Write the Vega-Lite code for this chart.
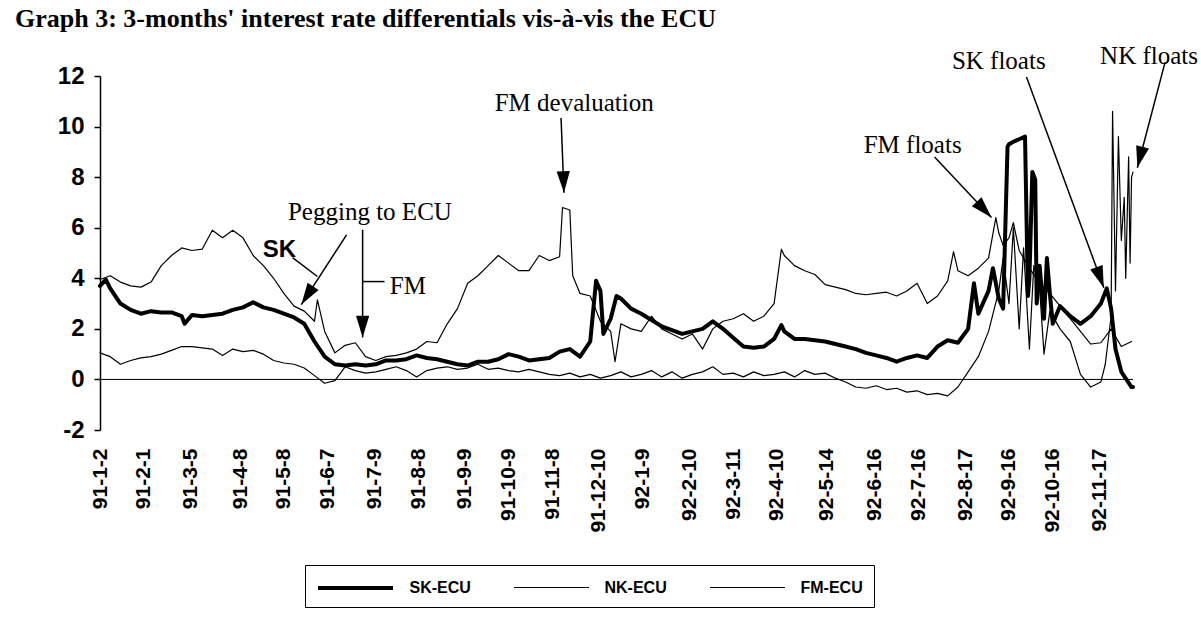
{
  "$schema": "https://vega.github.io/schema/vega-lite/v6.json",
  "width": 1033,
  "height": 354,
  "autosize": {"type": "none"},
  "padding": {"left": 100, "top": 76, "right": 68, "bottom": 211},
  "background": "white",
  "title": {"text": "Graph 3: 3-months' interest rate differentials vis-à-vis the ECU", "anchor": "start", "frame": "group", "font": "Liberation Serif", "fontSize": 26, "fontWeight": "bold", "color": "black", "dx": -85, "dy": 9, "baseline": "alphabetic", "offset": 0},
  "datasets": {
    "series": [
      {"d":"1991-01-02","s":"SK-ECU","v":3.7},{"d":"1991-01-06","s":"SK-ECU","v":3.95},{"d":"1991-01-09","s":"SK-ECU","v":3.6},{"d":"1991-01-16","s":"SK-ECU","v":3.0},{"d":"1991-01-23","s":"SK-ECU","v":2.75},{"d":"1991-01-30","s":"SK-ECU","v":2.6},{"d":"1991-02-06","s":"SK-ECU","v":2.7},{"d":"1991-02-13","s":"SK-ECU","v":2.65},{"d":"1991-02-20","s":"SK-ECU","v":2.65},{"d":"1991-02-27","s":"SK-ECU","v":2.5},{"d":"1991-03-01","s":"SK-ECU","v":2.2},{"d":"1991-03-06","s":"SK-ECU","v":2.55},{"d":"1991-03-13","s":"SK-ECU","v":2.5},{"d":"1991-03-20","s":"SK-ECU","v":2.55},{"d":"1991-03-27","s":"SK-ECU","v":2.6},{"d":"1991-04-03","s":"SK-ECU","v":2.75},{"d":"1991-04-10","s":"SK-ECU","v":2.85},{"d":"1991-04-17","s":"SK-ECU","v":3.05},{"d":"1991-04-24","s":"SK-ECU","v":2.85},{"d":"1991-05-01","s":"SK-ECU","v":2.75},{"d":"1991-05-08","s":"SK-ECU","v":2.6},{"d":"1991-05-15","s":"SK-ECU","v":2.45},{"d":"1991-05-22","s":"SK-ECU","v":2.2},{"d":"1991-05-29","s":"SK-ECU","v":1.5},{"d":"1991-06-05","s":"SK-ECU","v":0.9},{"d":"1991-06-12","s":"SK-ECU","v":0.6},{"d":"1991-06-19","s":"SK-ECU","v":0.55},{"d":"1991-06-26","s":"SK-ECU","v":0.6},{"d":"1991-07-03","s":"SK-ECU","v":0.55},{"d":"1991-07-10","s":"SK-ECU","v":0.6},{"d":"1991-07-17","s":"SK-ECU","v":0.75},{"d":"1991-07-24","s":"SK-ECU","v":0.75},{"d":"1991-07-31","s":"SK-ECU","v":0.8},{"d":"1991-08-07","s":"SK-ECU","v":0.95},{"d":"1991-08-14","s":"SK-ECU","v":0.85},{"d":"1991-08-21","s":"SK-ECU","v":0.8},{"d":"1991-08-28","s":"SK-ECU","v":0.7},{"d":"1991-09-04","s":"SK-ECU","v":0.6},{"d":"1991-09-11","s":"SK-ECU","v":0.55},{"d":"1991-09-18","s":"SK-ECU","v":0.7},{"d":"1991-09-25","s":"SK-ECU","v":0.7},{"d":"1991-10-02","s":"SK-ECU","v":0.8},{"d":"1991-10-09","s":"SK-ECU","v":1.0},{"d":"1991-10-16","s":"SK-ECU","v":0.9},{"d":"1991-10-23","s":"SK-ECU","v":0.75},{"d":"1991-10-30","s":"SK-ECU","v":0.8},{"d":"1991-11-06","s":"SK-ECU","v":0.85},{"d":"1991-11-13","s":"SK-ECU","v":1.1},{"d":"1991-11-20","s":"SK-ECU","v":1.2},{"d":"1991-11-27","s":"SK-ECU","v":0.9},{"d":"1991-12-04","s":"SK-ECU","v":1.5},{"d":"1991-12-08","s":"SK-ECU","v":3.9},{"d":"1991-12-11","s":"SK-ECU","v":3.5},{"d":"1991-12-13","s":"SK-ECU","v":1.8},{"d":"1991-12-18","s":"SK-ECU","v":2.4},{"d":"1991-12-22","s":"SK-ECU","v":3.3},{"d":"1991-12-25","s":"SK-ECU","v":3.2},{"d":"1992-01-01","s":"SK-ECU","v":2.8},{"d":"1992-01-08","s":"SK-ECU","v":2.6},{"d":"1992-01-15","s":"SK-ECU","v":2.35},{"d":"1992-01-22","s":"SK-ECU","v":2.1},{"d":"1992-01-29","s":"SK-ECU","v":1.95},{"d":"1992-02-05","s":"SK-ECU","v":1.8},{"d":"1992-02-12","s":"SK-ECU","v":1.9},{"d":"1992-02-19","s":"SK-ECU","v":2.0},{"d":"1992-02-26","s":"SK-ECU","v":2.3},{"d":"1992-03-04","s":"SK-ECU","v":2.0},{"d":"1992-03-11","s":"SK-ECU","v":1.65},{"d":"1992-03-18","s":"SK-ECU","v":1.3},{"d":"1992-03-25","s":"SK-ECU","v":1.25},{"d":"1992-04-01","s":"SK-ECU","v":1.3},{"d":"1992-04-08","s":"SK-ECU","v":1.6},{"d":"1992-04-13","s":"SK-ECU","v":2.15},{"d":"1992-04-15","s":"SK-ECU","v":1.9},{"d":"1992-04-22","s":"SK-ECU","v":1.6},{"d":"1992-04-29","s":"SK-ECU","v":1.6},{"d":"1992-05-06","s":"SK-ECU","v":1.55},{"d":"1992-05-13","s":"SK-ECU","v":1.5},{"d":"1992-05-20","s":"SK-ECU","v":1.4},{"d":"1992-05-27","s":"SK-ECU","v":1.3},{"d":"1992-06-03","s":"SK-ECU","v":1.2},{"d":"1992-06-10","s":"SK-ECU","v":1.05},{"d":"1992-06-17","s":"SK-ECU","v":0.95},{"d":"1992-06-24","s":"SK-ECU","v":0.85},{"d":"1992-07-01","s":"SK-ECU","v":0.7},{"d":"1992-07-08","s":"SK-ECU","v":0.85},{"d":"1992-07-15","s":"SK-ECU","v":0.95},{"d":"1992-07-22","s":"SK-ECU","v":0.85},{"d":"1992-07-29","s":"SK-ECU","v":1.3},{"d":"1992-08-05","s":"SK-ECU","v":1.55},{"d":"1992-08-12","s":"SK-ECU","v":1.45},{"d":"1992-08-19","s":"SK-ECU","v":2.0},{"d":"1992-08-23","s":"SK-ECU","v":3.8},{"d":"1992-08-26","s":"SK-ECU","v":2.6},{"d":"1992-09-02","s":"SK-ECU","v":3.5},{"d":"1992-09-05","s":"SK-ECU","v":4.4},{"d":"1992-09-09","s":"SK-ECU","v":3.2},{"d":"1992-09-12","s":"SK-ECU","v":2.8},{"d":"1992-09-15","s":"SK-ECU","v":9.2},{"d":"1992-09-16","s":"SK-ECU","v":9.3},{"d":"1992-09-19","s":"SK-ECU","v":9.4},{"d":"1992-09-23","s":"SK-ECU","v":9.5},{"d":"1992-09-27","s":"SK-ECU","v":9.6},{"d":"1992-09-29","s":"SK-ECU","v":3.3},{"d":"1992-09-30","s":"SK-ECU","v":4.0},{"d":"1992-10-02","s":"SK-ECU","v":8.2},{"d":"1992-10-04","s":"SK-ECU","v":7.9},{"d":"1992-10-05","s":"SK-ECU","v":3.0},{"d":"1992-10-07","s":"SK-ECU","v":4.5},{"d":"1992-10-10","s":"SK-ECU","v":2.4},{"d":"1992-10-12","s":"SK-ECU","v":4.8},{"d":"1992-10-14","s":"SK-ECU","v":3.4},{"d":"1992-10-16","s":"SK-ECU","v":2.2},{"d":"1992-10-21","s":"SK-ECU","v":2.9},{"d":"1992-10-28","s":"SK-ECU","v":2.5},{"d":"1992-11-04","s":"SK-ECU","v":2.2},{"d":"1992-11-11","s":"SK-ECU","v":2.5},{"d":"1992-11-18","s":"SK-ECU","v":3.0},{"d":"1992-11-22","s":"SK-ECU","v":3.6},{"d":"1992-11-25","s":"SK-ECU","v":2.8},{"d":"1992-11-28","s":"SK-ECU","v":1.2},{"d":"1992-12-02","s":"SK-ECU","v":0.3},{"d":"1992-12-09","s":"SK-ECU","v":-0.3},{"d":"1992-12-10","s":"SK-ECU","v":-0.3},
      {"d":"1991-01-02","s":"NK-ECU","v":1.05},{"d":"1991-01-09","s":"NK-ECU","v":0.9},{"d":"1991-01-16","s":"NK-ECU","v":0.6},{"d":"1991-01-23","s":"NK-ECU","v":0.75},{"d":"1991-01-30","s":"NK-ECU","v":0.85},{"d":"1991-02-06","s":"NK-ECU","v":0.9},{"d":"1991-02-13","s":"NK-ECU","v":1.0},{"d":"1991-02-20","s":"NK-ECU","v":1.15},{"d":"1991-02-27","s":"NK-ECU","v":1.3},{"d":"1991-03-06","s":"NK-ECU","v":1.3},{"d":"1991-03-13","s":"NK-ECU","v":1.25},{"d":"1991-03-20","s":"NK-ECU","v":1.2},{"d":"1991-03-27","s":"NK-ECU","v":0.95},{"d":"1991-04-03","s":"NK-ECU","v":1.2},{"d":"1991-04-10","s":"NK-ECU","v":1.1},{"d":"1991-04-17","s":"NK-ECU","v":1.15},{"d":"1991-04-24","s":"NK-ECU","v":1.0},{"d":"1991-05-01","s":"NK-ECU","v":0.75},{"d":"1991-05-08","s":"NK-ECU","v":0.65},{"d":"1991-05-15","s":"NK-ECU","v":0.6},{"d":"1991-05-22","s":"NK-ECU","v":0.45},{"d":"1991-05-29","s":"NK-ECU","v":0.15},{"d":"1991-06-05","s":"NK-ECU","v":-0.15},{"d":"1991-06-12","s":"NK-ECU","v":-0.05},{"d":"1991-06-19","s":"NK-ECU","v":0.5},{"d":"1991-06-26","s":"NK-ECU","v":0.35},{"d":"1991-07-03","s":"NK-ECU","v":0.25},{"d":"1991-07-10","s":"NK-ECU","v":0.3},{"d":"1991-07-17","s":"NK-ECU","v":0.4},{"d":"1991-07-24","s":"NK-ECU","v":0.5},{"d":"1991-07-31","s":"NK-ECU","v":0.35},{"d":"1991-08-07","s":"NK-ECU","v":0.1},{"d":"1991-08-14","s":"NK-ECU","v":0.35},{"d":"1991-08-21","s":"NK-ECU","v":0.45},{"d":"1991-08-28","s":"NK-ECU","v":0.5},{"d":"1991-09-04","s":"NK-ECU","v":0.4},{"d":"1991-09-11","s":"NK-ECU","v":0.45},{"d":"1991-09-18","s":"NK-ECU","v":0.6},{"d":"1991-09-25","s":"NK-ECU","v":0.4},{"d":"1991-10-02","s":"NK-ECU","v":0.45},{"d":"1991-10-09","s":"NK-ECU","v":0.35},{"d":"1991-10-16","s":"NK-ECU","v":0.3},{"d":"1991-10-23","s":"NK-ECU","v":0.4},{"d":"1991-10-30","s":"NK-ECU","v":0.3},{"d":"1991-11-06","s":"NK-ECU","v":0.2},{"d":"1991-11-13","s":"NK-ECU","v":0.15},{"d":"1991-11-20","s":"NK-ECU","v":0.25},{"d":"1991-11-27","s":"NK-ECU","v":0.1},{"d":"1991-12-04","s":"NK-ECU","v":0.2},{"d":"1991-12-11","s":"NK-ECU","v":0.05},{"d":"1991-12-18","s":"NK-ECU","v":0.15},{"d":"1991-12-25","s":"NK-ECU","v":0.3},{"d":"1992-01-01","s":"NK-ECU","v":0.1},{"d":"1992-01-08","s":"NK-ECU","v":0.2},{"d":"1992-01-15","s":"NK-ECU","v":0.35},{"d":"1992-01-22","s":"NK-ECU","v":0.1},{"d":"1992-01-29","s":"NK-ECU","v":0.3},{"d":"1992-02-05","s":"NK-ECU","v":0.05},{"d":"1992-02-12","s":"NK-ECU","v":0.2},{"d":"1992-02-19","s":"NK-ECU","v":0.3},{"d":"1992-02-26","s":"NK-ECU","v":0.5},{"d":"1992-03-04","s":"NK-ECU","v":0.2},{"d":"1992-03-11","s":"NK-ECU","v":0.25},{"d":"1992-03-18","s":"NK-ECU","v":0.1},{"d":"1992-03-25","s":"NK-ECU","v":0.3},{"d":"1992-04-01","s":"NK-ECU","v":0.15},{"d":"1992-04-08","s":"NK-ECU","v":0.2},{"d":"1992-04-15","s":"NK-ECU","v":0.3},{"d":"1992-04-22","s":"NK-ECU","v":0.1},{"d":"1992-04-29","s":"NK-ECU","v":0.35},{"d":"1992-05-06","s":"NK-ECU","v":0.2},{"d":"1992-05-13","s":"NK-ECU","v":0.25},{"d":"1992-05-20","s":"NK-ECU","v":0.05},{"d":"1992-05-27","s":"NK-ECU","v":-0.1},{"d":"1992-06-03","s":"NK-ECU","v":-0.3},{"d":"1992-06-10","s":"NK-ECU","v":-0.35},{"d":"1992-06-17","s":"NK-ECU","v":-0.25},{"d":"1992-06-24","s":"NK-ECU","v":-0.4},{"d":"1992-07-01","s":"NK-ECU","v":-0.35},{"d":"1992-07-08","s":"NK-ECU","v":-0.5},{"d":"1992-07-15","s":"NK-ECU","v":-0.45},{"d":"1992-07-22","s":"NK-ECU","v":-0.6},{"d":"1992-07-29","s":"NK-ECU","v":-0.55},{"d":"1992-08-05","s":"NK-ECU","v":-0.65},{"d":"1992-08-12","s":"NK-ECU","v":-0.3},{"d":"1992-08-19","s":"NK-ECU","v":0.3},{"d":"1992-08-26","s":"NK-ECU","v":0.9},{"d":"1992-09-02","s":"NK-ECU","v":1.9},{"d":"1992-09-09","s":"NK-ECU","v":3.5},{"d":"1992-09-12","s":"NK-ECU","v":4.8},{"d":"1992-09-16","s":"NK-ECU","v":3.0},{"d":"1992-09-19","s":"NK-ECU","v":6.0},{"d":"1992-09-23","s":"NK-ECU","v":2.0},{"d":"1992-09-26","s":"NK-ECU","v":5.2},{"d":"1992-09-30","s":"NK-ECU","v":1.2},{"d":"1992-10-03","s":"NK-ECU","v":4.5},{"d":"1992-10-07","s":"NK-ECU","v":3.6},{"d":"1992-10-10","s":"NK-ECU","v":1.0},{"d":"1992-10-14","s":"NK-ECU","v":2.7},{"d":"1992-10-21","s":"NK-ECU","v":2.0},{"d":"1992-10-28","s":"NK-ECU","v":1.5},{"d":"1992-11-04","s":"NK-ECU","v":0.2},{"d":"1992-11-11","s":"NK-ECU","v":-0.3},{"d":"1992-11-18","s":"NK-ECU","v":-0.1},{"d":"1992-11-21","s":"NK-ECU","v":0.6},{"d":"1992-11-25","s":"NK-ECU","v":2.5},{"d":"1992-11-26","s":"NK-ECU","v":10.6},{"d":"1992-11-28","s":"NK-ECU","v":3.5},{"d":"1992-11-30","s":"NK-ECU","v":9.6},{"d":"1992-12-02","s":"NK-ECU","v":5.5},{"d":"1992-12-04","s":"NK-ECU","v":7.2},{"d":"1992-12-05","s":"NK-ECU","v":4.0},{"d":"1992-12-07","s":"NK-ECU","v":8.8},{"d":"1992-12-08","s":"NK-ECU","v":4.6},{"d":"1992-12-09","s":"NK-ECU","v":8.0},{"d":"1992-12-10","s":"NK-ECU","v":8.2},
      {"d":"1991-01-02","s":"FM-ECU","v":3.95},{"d":"1991-01-09","s":"FM-ECU","v":4.1},{"d":"1991-01-16","s":"FM-ECU","v":3.85},{"d":"1991-01-23","s":"FM-ECU","v":3.7},{"d":"1991-01-30","s":"FM-ECU","v":3.65},{"d":"1991-02-06","s":"FM-ECU","v":3.85},{"d":"1991-02-13","s":"FM-ECU","v":4.5},{"d":"1991-02-20","s":"FM-ECU","v":4.9},{"d":"1991-02-27","s":"FM-ECU","v":5.2},{"d":"1991-03-06","s":"FM-ECU","v":5.1},{"d":"1991-03-13","s":"FM-ECU","v":5.15},{"d":"1991-03-20","s":"FM-ECU","v":5.9},{"d":"1991-03-27","s":"FM-ECU","v":5.6},{"d":"1991-04-03","s":"FM-ECU","v":5.9},{"d":"1991-04-10","s":"FM-ECU","v":5.6},{"d":"1991-04-17","s":"FM-ECU","v":4.9},{"d":"1991-04-24","s":"FM-ECU","v":4.5},{"d":"1991-05-01","s":"FM-ECU","v":4.0},{"d":"1991-05-08","s":"FM-ECU","v":3.4},{"d":"1991-05-15","s":"FM-ECU","v":2.9},{"d":"1991-05-22","s":"FM-ECU","v":2.7},{"d":"1991-05-29","s":"FM-ECU","v":2.3},{"d":"1991-05-31","s":"FM-ECU","v":3.15},{"d":"1991-06-05","s":"FM-ECU","v":1.9},{"d":"1991-06-12","s":"FM-ECU","v":1.05},{"d":"1991-06-19","s":"FM-ECU","v":1.35},{"d":"1991-06-26","s":"FM-ECU","v":1.45},{"d":"1991-07-03","s":"FM-ECU","v":0.9},{"d":"1991-07-10","s":"FM-ECU","v":0.75},{"d":"1991-07-17","s":"FM-ECU","v":0.9},{"d":"1991-07-24","s":"FM-ECU","v":0.95},{"d":"1991-07-31","s":"FM-ECU","v":1.05},{"d":"1991-08-07","s":"FM-ECU","v":1.2},{"d":"1991-08-14","s":"FM-ECU","v":1.5},{"d":"1991-08-21","s":"FM-ECU","v":1.45},{"d":"1991-08-28","s":"FM-ECU","v":2.2},{"d":"1991-09-04","s":"FM-ECU","v":2.8},{"d":"1991-09-11","s":"FM-ECU","v":3.8},{"d":"1991-09-18","s":"FM-ECU","v":4.1},{"d":"1991-09-25","s":"FM-ECU","v":4.5},{"d":"1991-10-02","s":"FM-ECU","v":4.9},{"d":"1991-10-09","s":"FM-ECU","v":4.6},{"d":"1991-10-16","s":"FM-ECU","v":4.3},{"d":"1991-10-23","s":"FM-ECU","v":4.3},{"d":"1991-10-30","s":"FM-ECU","v":4.9},{"d":"1991-11-06","s":"FM-ECU","v":4.7},{"d":"1991-11-13","s":"FM-ECU","v":4.85},{"d":"1991-11-15","s":"FM-ECU","v":6.8},{"d":"1991-11-20","s":"FM-ECU","v":6.7},{"d":"1991-11-22","s":"FM-ECU","v":4.1},{"d":"1991-11-27","s":"FM-ECU","v":3.4},{"d":"1991-12-04","s":"FM-ECU","v":3.3},{"d":"1991-12-11","s":"FM-ECU","v":2.3},{"d":"1991-12-18","s":"FM-ECU","v":1.9},{"d":"1991-12-21","s":"FM-ECU","v":0.7},{"d":"1991-12-25","s":"FM-ECU","v":2.2},{"d":"1992-01-01","s":"FM-ECU","v":2.0},{"d":"1992-01-08","s":"FM-ECU","v":1.9},{"d":"1992-01-15","s":"FM-ECU","v":2.5},{"d":"1992-01-22","s":"FM-ECU","v":2.0},{"d":"1992-01-29","s":"FM-ECU","v":1.8},{"d":"1992-02-05","s":"FM-ECU","v":1.6},{"d":"1992-02-12","s":"FM-ECU","v":1.8},{"d":"1992-02-19","s":"FM-ECU","v":1.2},{"d":"1992-02-26","s":"FM-ECU","v":2.0},{"d":"1992-03-04","s":"FM-ECU","v":2.3},{"d":"1992-03-11","s":"FM-ECU","v":2.4},{"d":"1992-03-18","s":"FM-ECU","v":2.6},{"d":"1992-03-25","s":"FM-ECU","v":2.3},{"d":"1992-04-01","s":"FM-ECU","v":2.5},{"d":"1992-04-08","s":"FM-ECU","v":3.0},{"d":"1992-04-13","s":"FM-ECU","v":5.15},{"d":"1992-04-15","s":"FM-ECU","v":4.9},{"d":"1992-04-22","s":"FM-ECU","v":4.5},{"d":"1992-04-29","s":"FM-ECU","v":4.3},{"d":"1992-05-06","s":"FM-ECU","v":4.15},{"d":"1992-05-13","s":"FM-ECU","v":3.75},{"d":"1992-05-20","s":"FM-ECU","v":3.65},{"d":"1992-05-27","s":"FM-ECU","v":3.55},{"d":"1992-06-03","s":"FM-ECU","v":3.4},{"d":"1992-06-10","s":"FM-ECU","v":3.35},{"d":"1992-06-17","s":"FM-ECU","v":3.4},{"d":"1992-06-24","s":"FM-ECU","v":3.45},{"d":"1992-07-01","s":"FM-ECU","v":3.3},{"d":"1992-07-08","s":"FM-ECU","v":3.5},{"d":"1992-07-15","s":"FM-ECU","v":3.8},{"d":"1992-07-22","s":"FM-ECU","v":3.0},{"d":"1992-07-29","s":"FM-ECU","v":3.3},{"d":"1992-08-05","s":"FM-ECU","v":3.9},{"d":"1992-08-09","s":"FM-ECU","v":5.05},{"d":"1992-08-12","s":"FM-ECU","v":4.3},{"d":"1992-08-19","s":"FM-ECU","v":4.1},{"d":"1992-08-26","s":"FM-ECU","v":4.4},{"d":"1992-09-02","s":"FM-ECU","v":4.8},{"d":"1992-09-07","s":"FM-ECU","v":6.4},{"d":"1992-09-09","s":"FM-ECU","v":5.8},{"d":"1992-09-12","s":"FM-ECU","v":5.3},{"d":"1992-09-16","s":"FM-ECU","v":5.6},{"d":"1992-09-19","s":"FM-ECU","v":6.2},{"d":"1992-09-23","s":"FM-ECU","v":5.1},{"d":"1992-09-30","s":"FM-ECU","v":4.4},{"d":"1992-10-07","s":"FM-ECU","v":3.8},{"d":"1992-10-14","s":"FM-ECU","v":3.4},{"d":"1992-10-21","s":"FM-ECU","v":2.9},{"d":"1992-10-28","s":"FM-ECU","v":2.4},{"d":"1992-11-04","s":"FM-ECU","v":1.9},{"d":"1992-11-11","s":"FM-ECU","v":1.4},{"d":"1992-11-18","s":"FM-ECU","v":1.45},{"d":"1992-11-25","s":"FM-ECU","v":2.0},{"d":"1992-12-02","s":"FM-ECU","v":1.3},{"d":"1992-12-09","s":"FM-ECU","v":1.5}
    ],
    "arrows": [
      {"id":"dev","d1":"1991-11-14","v1":10.34,"d2":"1991-11-16","v2":7.38},
      {"id":"pegsk","d1":"1991-06-20","v1":5.72,"d2":"1991-05-20","v2":2.96},
      {"id":"pegfm","d1":"1991-07-01","v1":5.92,"d2":"1991-07-01","v2":1.66},
      {"id":"fmf","d1":"1992-07-27","v1":8.8,"d2":"1992-09-04","v2":6.4},
      {"id":"skf","d1":"1992-09-28","v1":11.96,"d2":"1992-11-20","v2":3.63},
      {"id":"nkf","d1":"1993-01-01","v1":12.55,"d2":"1992-12-13","v2":8.37}
    ],
    "links": [
      {"id":"sk","d1":"1991-05-14","v1":4.82,"d2":"1991-05-31","v2":4.07},
      {"id":"fm","d1":"1991-07-01","v1":3.87,"d2":"1991-07-16","v2":3.87}
    ],
    "notes": [
      {"t":"Pegging to ECU","d":"1991-07-06","v":6.32},
      {"t":"FM","d":"1991-08-01","v":3.36},
      {"t":"FM devaluation","d":"1991-11-23","v":10.62},
      {"t":"FM floats","d":"1992-07-12","v":8.96},
      {"t":"SK floats","d":"1992-09-09","v":12.28},
      {"t":"NK floats","d":"1992-12-21","v":12.48}
    ],
    "sknote": [
      {"t":"SK","d":"1991-05-05","v":4.86}
    ]
  },
  "layer": [
    {
      "data": {"values": [{}]},
      "mark": {"type": "rule", "color": "black", "strokeWidth": 1},
      "encoding": {"y": {"datum": 0, "type": "quantitative"}}
    },
    {
      "data": {"name": "series"},
      "mark": {"type": "line", "strokeJoin": "round", "strokeCap": "round"},
      "encoding": {
        "x": {"field": "d", "type": "temporal",
          "scale": {"type": "utc", "domain": [{"year":1991,"month":1,"date":2,"utc":true},{"year":1992,"month":12,"date":10,"utc":true}]},
          "axis": {"orient": "bottom", "domain": false, "ticks": false, "grid": false, "title": null, "labelAngle": 270, "labelFlush": false, "labelOverlap": false, "labelPadding": 18, "labelFont": "Liberation Sans", "labelFontWeight": "bold", "labelFontSize": 21, "labelColor": "black", "format": "%y-%-m-%-d",
            "values": [
              {"year":1991,"month":1,"date":2,"utc":true},{"year":1991,"month":2,"date":1,"utc":true},{"year":1991,"month":3,"date":5,"utc":true},{"year":1991,"month":4,"date":8,"utc":true},{"year":1991,"month":5,"date":8,"utc":true},{"year":1991,"month":6,"date":7,"utc":true},{"year":1991,"month":7,"date":9,"utc":true},{"year":1991,"month":8,"date":8,"utc":true},{"year":1991,"month":9,"date":9,"utc":true},{"year":1991,"month":10,"date":9,"utc":true},{"year":1991,"month":11,"date":8,"utc":true},{"year":1991,"month":12,"date":10,"utc":true},
              {"year":1992,"month":1,"date":9,"utc":true},{"year":1992,"month":2,"date":10,"utc":true},{"year":1992,"month":3,"date":11,"utc":true},{"year":1992,"month":4,"date":10,"utc":true},{"year":1992,"month":5,"date":14,"utc":true},{"year":1992,"month":6,"date":16,"utc":true},{"year":1992,"month":7,"date":16,"utc":true},{"year":1992,"month":8,"date":17,"utc":true},{"year":1992,"month":9,"date":16,"utc":true},{"year":1992,"month":10,"date":16,"utc":true},{"year":1992,"month":11,"date":17,"utc":true}
            ]}},
        "y": {"field": "v", "type": "quantitative",
          "scale": {"domain": [-2, 12], "nice": false, "zero": false},
          "axis": {"values": [-2,0,2,4,6,8,10,12], "labelExpr": "datum.value < 0 ? '-' + abs(datum.value) : datum.label", "grid": false, "title": null, "domainColor": "black", "domainWidth": 1.5, "tickColor": "black", "tickWidth": 1.5, "tickSize": 6, "labelPadding": 10, "labelFont": "Liberation Sans", "labelFontWeight": "bold", "labelFontSize": 24, "labelColor": "black"}},
        "color": {"field": "s", "type": "nominal",
          "scale": {"domain": ["SK-ECU","NK-ECU","FM-ECU"], "range": ["black","black","black"]},
          "legend": {"orient": "none", "legendX": 205, "legendY": 489, "direction": "horizontal", "title": null, "symbolType": "M-3.75,0L3.75,0", "symbolSize": 400, "symbolOffset": 27.5, "labelOffset": 42, "columnPadding": 40, "padding": 11, "strokeColor": "black", "labelFont": "Liberation Sans", "labelFontWeight": "bold", "labelFontSize": 16, "labelColor": "black"}},
        "strokeWidth": {"field": "s", "type": "nominal",
          "scale": {"type": "ordinal", "domain": ["SK-ECU","NK-ECU","FM-ECU"], "range": [4, 1.2, 1.2]},
          "legend": {"orient": "none", "legendX": 205, "legendY": 489, "direction": "horizontal", "title": null, "symbolType": "M-3.75,0L3.75,0", "symbolSize": 400, "symbolOffset": 27.5, "labelOffset": 42, "columnPadding": 40, "padding": 11, "strokeColor": "black", "labelFont": "Liberation Sans", "labelFontWeight": "bold", "labelFontSize": 16, "labelColor": "black"}}
      }
    },
    {
      "data": {"name": "links"},
      "mark": {"type": "rule", "color": "black", "strokeWidth": 1.5},
      "encoding": {"x": {"field": "d1", "type": "temporal"}, "x2": {"field": "d2"}, "y": {"field": "v1", "type": "quantitative"}, "y2": {"field": "v2"}}
    },
    {
      "data": {"name": "arrows"},
      "mark": {"type": "rule", "color": "black", "strokeWidth": 1.5},
      "encoding": {"x": {"field": "d1", "type": "temporal"}, "x2": {"field": "d2"}, "y": {"field": "v1", "type": "quantitative"}, "y2": {"field": "v2"}}
    },
    {"data": {"name": "arrows"}, "transform": [{"filter": "datum.id === 'dev'"}], "mark": {"type": "point", "shape": "M0,0L1.1,3.6L-1.1,3.6Z", "filled": true, "size": 144, "color": "black", "opacity": 1, "angle": 178}, "encoding": {"x": {"field": "d2", "type": "temporal"}, "y": {"field": "v2", "type": "quantitative"}}},
    {"data": {"name": "arrows"}, "transform": [{"filter": "datum.id === 'pegsk'"}], "mark": {"type": "point", "shape": "M0,0L1.1,3.6L-1.1,3.6Z", "filled": true, "size": 144, "color": "black", "opacity": 1, "angle": 213}, "encoding": {"x": {"field": "d2", "type": "temporal"}, "y": {"field": "v2", "type": "quantitative"}}},
    {"data": {"name": "arrows"}, "transform": [{"filter": "datum.id === 'pegfm'"}], "mark": {"type": "point", "shape": "M0,0L1.1,3.6L-1.1,3.6Z", "filled": true, "size": 144, "color": "black", "opacity": 1, "angle": 180}, "encoding": {"x": {"field": "d2", "type": "temporal"}, "y": {"field": "v2", "type": "quantitative"}}},
    {"data": {"name": "arrows"}, "transform": [{"filter": "datum.id === 'fmf'"}], "mark": {"type": "point", "shape": "M0,0L1.1,3.6L-1.1,3.6Z", "filled": true, "size": 144, "color": "black", "opacity": 1, "angle": 137}, "encoding": {"x": {"field": "d2", "type": "temporal"}, "y": {"field": "v2", "type": "quantitative"}}},
    {"data": {"name": "arrows"}, "transform": [{"filter": "datum.id === 'skf'"}], "mark": {"type": "point", "shape": "M0,0L1.1,3.6L-1.1,3.6Z", "filled": true, "size": 144, "color": "black", "opacity": 1, "angle": 160}, "encoding": {"x": {"field": "d2", "type": "temporal"}, "y": {"field": "v2", "type": "quantitative"}}},
    {"data": {"name": "arrows"}, "transform": [{"filter": "datum.id === 'nkf'"}], "mark": {"type": "point", "shape": "M0,0L1.1,3.6L-1.1,3.6Z", "filled": true, "size": 144, "color": "black", "opacity": 1, "angle": 194}, "encoding": {"x": {"field": "d2", "type": "temporal"}, "y": {"field": "v2", "type": "quantitative"}}},
    {
      "data": {"name": "notes"},
      "mark": {"type": "text", "font": "Liberation Serif", "fontSize": 25, "color": "black", "align": "center", "baseline": "alphabetic"},
      "encoding": {"x": {"field": "d", "type": "temporal"}, "y": {"field": "v", "type": "quantitative"}, "text": {"field": "t"}}
    },
    {
      "data": {"name": "sknote"},
      "mark": {"type": "text", "font": "Liberation Sans", "fontWeight": "bold", "fontSize": 24, "color": "black", "align": "center", "baseline": "alphabetic"},
      "encoding": {"x": {"field": "d", "type": "temporal"}, "y": {"field": "v", "type": "quantitative"}, "text": {"field": "t"}}
    }
  ],
  "config": {
    "view": {"stroke": null},
    "axis": {"domainColor": "black"}
  }
}
